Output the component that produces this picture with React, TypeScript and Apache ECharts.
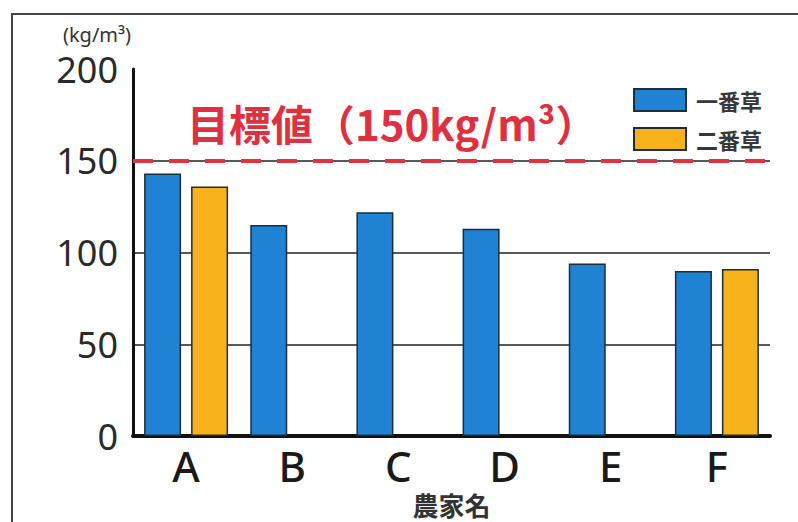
import React, { useEffect, useRef } from "react";
import * as echarts from "echarts";

const categories = ["A", "B", "C", "D", "E", "F"];
const firstCut = [143, 115, 122, 113, 94, 90];
const secondCut: (number | null)[] = [136, null, null, null, null, 91];
const yTicks = [0, 50, 100, 150, 200];
const targetValue = 150;
const seriesNames = ["一番草", "二番草"];

export default function App() {
  const ref = useRef<HTMLDivElement>(null);
  useEffect(() => {
    if (!ref.current) return;
    const chart = echarts.init(ref.current, null, { renderer: "svg" });
    const jp = '"Noto Sans CJK JP", "Noto Sans", sans-serif';
    const latin = '"Noto Sans", "Noto Sans CJK JP", sans-serif';
    chart.setOption({
      animation: false,
      backgroundColor: "#ffffff",
      textStyle: { fontFamily: jp },
      grid: { left: 133, right: 28, top: 69, bottom: 77 },
      legend: {
        orient: "vertical",
        left: 628,
        top: 83,
        itemWidth: 52,
        itemHeight: 22,
        itemGap: 15,
        icon: "rect",
        textStyle: {
          fontSize: 22,
          lineHeight: 22,
          fontWeight: "bold",
          color: "#383838",
          fontFamily: jp,
          padding: [0, 0, 0, 5],
        },
        data: seriesNames,
      },
      graphic: [
        {
          type: "rect",
          shape: { x: 12, y: 14, width: 800, height: 520 },
          style: { fill: "none", stroke: "#444", lineWidth: 2 },
          silent: true,
        },
        {
          type: "text",
          x: 97,
          y: 34,
          style: {
            text: "(kg/m³)",
            fontSize: 20,
            lineHeight: 20,
            fill: "#333",
            fontFamily: latin,
            align: "center",
            verticalAlign: "middle",
          },
        },
      ],
      xAxis: {
        type: "category",
        data: categories,
        name: "農家名",
        nameLocation: "middle",
        nameGap: 52,
        nameTextStyle: { fontSize: 26, fontWeight: "bold", color: "#333", fontFamily: jp },
        axisLine: { lineStyle: { color: "#111", width: 4 } },
        axisTick: { show: false },
        axisLabel: { fontSize: 42, color: "#1a1a1a", margin: 8, fontFamily: latin, fontWeight: 500 },
      },
      yAxis: {
        type: "value",
        min: 0,
        max: 200,
        interval: 50,
        axisLine: { show: true, lineStyle: { color: "#111", width: 3 } },
        axisTick: { show: false },
        axisLabel: {
          fontSize: 36,
          lineHeight: 30,
          color: "#2a2a2a",
          margin: 15,
          fontFamily: latin,
          formatter: (v: number) => (yTicks.includes(v) ? String(v) : ""),
        },
        splitLine: { show: true, showMaxLine: false, lineStyle: { color: "#222", width: 1.5 } },
      },
      series: [
        {
          name: seriesNames[0],
          type: "bar",
          data: firstCut,
          barWidth: 37,
          barGap: "27%",
          itemStyle: { color: "#1f82d2", borderColor: "#1b2e3c", borderWidth: 1.5 },
          markLine: {
            symbol: "none",
            silent: true,
            lineStyle: { color: "#e3323f", width: 4, type: [20, 16] },
            label: {
              show: true,
              position: "insideStartTop",
              distance: [54, 17],
              formatter: "目標値（150kg/m³）",
              fontSize: 42,
              fontWeight: "bold",
              color: "#de3040",
              fontFamily: jp,
            },
            data: [{ yAxis: targetValue }],
          },
        },
        {
          name: seriesNames[1],
          type: "bar",
          data: secondCut,
          barWidth: 37,
          itemStyle: { color: "#f7b21b", borderColor: "#1b2e3c", borderWidth: 1.5 },
        },
      ],
    });
    return () => chart.dispose();
  }, []);
  return <div ref={ref} style={{ width: 798, height: 522, position: "absolute", left: 0, top: 0 }} />;
}
